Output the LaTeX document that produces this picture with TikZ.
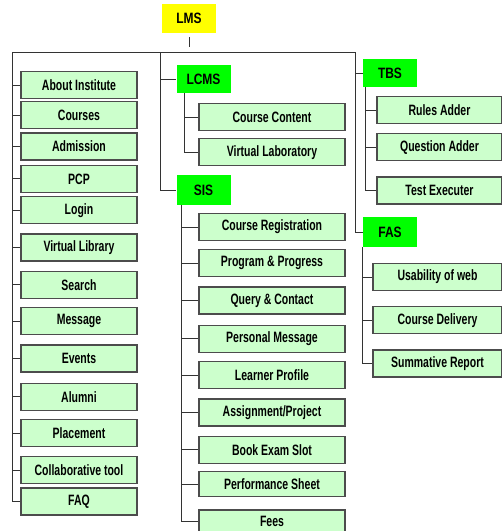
\documentclass[tikz,border=0pt]{standalone}
\usepackage{fontspec}
\setmainfont{Liberation Sans}[FakeStretch=0.8]
\newfontfamily\leaffont{Liberation Sans}[FakeStretch=0.7]
\usetikzlibrary{positioning}
\definecolor{lmsyellow}{HTML}{FFFF00}
\definecolor{headgreen}{HTML}{00FF00}
\definecolor{leafgreen}{HTML}{CCFFCC}
\tikzset{
  head/.style={fill=headgreen, minimum width=54pt, minimum height=29pt, inner sep=0pt,
    font=\fontsize{15}{15}\selectfont\bfseries},
  leaf/.style={draw=black!70, line width=1.3pt, fill=leafgreen, minimum height=27pt,
    inner sep=0pt, font=\leaffont\fontsize{15}{15}\selectfont\bfseries},
  leftleaf/.style={leaf, minimum width=116pt},
  midleaf/.style={leaf, minimum width=146pt},
  tbsleaf/.style={leaf, minimum width=125pt},
  fasleaf/.style={leaf, minimum width=129pt},
  wire/.style={draw=black!80, line width=1pt}
}
\begin{document}
\begin{tikzpicture}[x=1pt,y=-1pt]
  \useasboundingbox (0,0) rectangle (502,531);

  % heads
  \node (lms)
        [head, fill=lmsyellow] at (189,18.5)
        {LMS};
  \node (lcms)
        [head, minimum height=28pt] at (203.5,79)
        {LCMS};
  \node (sis)
        [head, minimum height=30pt] at (203.5,190)
        {SIS};
  \node (tbs)
        [head, minimum height=28pt] at (390,73)
        {TBS};
  \node (fas)
        [head, minimum height=30pt] at (390,232)
        {FAS};

  % left column
  \node (about)
        [leftleaf] at (79,85)
        {About Institute};
  \node (courses)
        [leftleaf, below=2pt of about]
        {Courses};
  \node (admission)
        [leftleaf, below=3pt of courses]
        {Admission};
  \node (pcp)
        [leftleaf, below=4pt of admission]
        {PCP};
  \node (login)
        [leftleaf, below=3pt of pcp]
        {Login};
  \node (vlibrary)
        [leftleaf, below=9pt of login]
        {Virtual Library};
  \node (search)
        [leftleaf, below=9pt of vlibrary]
        {Search};
  \node (message)
        [leftleaf, below=8pt of search]
        {Message};
  \node (events)
        [leftleaf, below=9pt of message]
        {Events};
  \node (alumni)
        [leftleaf, below=10pt of events]
        {Alumni};
  \node (placement)
        [leftleaf, below=8pt of alumni]
        {Placement};
  \node (collab)
        [leftleaf, below=9pt of placement]
        {Collaborative tool};
  \node (faq)
        [leftleaf, below=3pt of collab]
        {FAQ};

  % LCMS column
  \node (content)
        [midleaf] at (272,117)
        {Course Content};
  \node (vlab)
        [midleaf, below=7pt of content]
        {Virtual Laboratory};

  % SIS column
  \node (registration)
        [midleaf] at (272,227)
        {Course Registration};
  \node (progress)
        [midleaf, below=8pt of registration]
        {Program \& Progress};
  \node (query)
        [midleaf, below=9pt of progress]
        {Query \& Contact};
  \node (pmessage)
        [midleaf, below=10pt of query]
        {Personal Message};
  \node (profile)
        [midleaf, below=8pt of pmessage]
        {Learner Profile};
  \node (assignment)
        [midleaf, below=9pt of profile]
        {Assignment/Project};
  \node (examslot)
        [midleaf, below=9pt of assignment]
        {Book Exam Slot};
  \node (performance)
        [midleaf, minimum height=25pt, below=7pt of examslot]
        {Performance Sheet};
  \node (fees)
        [midleaf, minimum height=24pt, below=12pt of performance]
        {Fees};

  % TBS column
  \node (rules)
        [tbsleaf] at (439.5,110)
        {Rules Adder};
  \node (question)
        [tbsleaf, below=9pt of rules]
        {Question Adder};
  \node (executer)
        [tbsleaf, below=15pt of question]
        {Test Executer};

  % FAS column
  \node (usability)
        [fasleaf] at (437.5,277)
        {Usability of web};
  \node (delivery)
        [fasleaf, below=15pt of usability]
        {Course Delivery};
  \node (summative)
        [fasleaf, below=15pt of delivery]
        {Summative Report};

  % trunk
  \coordinate (lbar) at (12,52);
  \coordinate (mbar) at (160,52);
  \coordinate (rbar) at (355,52);
  \coordinate (lcmsbar) at ([xshift=8pt]lcms.south west);
  \coordinate (sisbar) at ([xshift=5pt]sis.south west);
  \coordinate (tbsbar) at ([xshift=3pt]tbs.south west);
  \coordinate (fasbar) at (fas.south west);

  \draw[wire] ([yshift=-4pt]lms.south) -- ([yshift=-14pt]lms.south);
  \draw[wire] (lbar) -- (rbar);

  \draw[wire] (lbar) |- (faq.west);
  \draw[wire] (lbar |- about.west) -- (about.west);
  \draw[wire] (lbar |- courses.west) -- (courses.west);
  \draw[wire] (lbar |- admission.west) -- (admission.west);
  \draw[wire] (lbar |- pcp.west) -- (pcp.west);
  \draw[wire] (lbar |- login.west) -- (login.west);
  \draw[wire] (lbar |- vlibrary.west) -- (vlibrary.west);
  \draw[wire] (lbar |- search.west) -- (search.west);
  \draw[wire] (lbar |- message.west) -- (message.west);
  \draw[wire] (lbar |- events.west) -- (events.west);
  \draw[wire] (lbar |- alumni.west) -- (alumni.west);
  \draw[wire] (lbar |- placement.west) -- (placement.west);
  \draw[wire] (lbar |- collab.west) -- (collab.west);

  \draw[wire] (mbar) |- (sis.west);
  \draw[wire] (mbar |- lcms.west) -- (lcms.west);
  \draw[wire] (rbar) |- (fas.west);
  \draw[wire] (rbar |- tbs.west) -- (tbs.west);

  \draw[wire] (lcmsbar) |- (vlab.west);
  \draw[wire] (lcmsbar |- content.west) -- (content.west);

  \draw[wire] (sisbar) |- (fees.west);
  \draw[wire] (sisbar |- registration.west) -- (registration.west);
  \draw[wire] (sisbar |- progress.west) -- (progress.west);
  \draw[wire] (sisbar |- query.west) -- (query.west);
  \draw[wire] (sisbar |- pmessage.west) -- (pmessage.west);
  \draw[wire] (sisbar |- profile.west) -- (profile.west);
  \draw[wire] (sisbar |- assignment.west) -- (assignment.west);
  \draw[wire] (sisbar |- examslot.west) -- (examslot.west);
  \draw[wire] (sisbar |- performance.west) -- (performance.west);

  \draw[wire] (tbsbar) |- (executer.west);
  \draw[wire] (tbsbar |- rules.west) -- (rules.west);
  \draw[wire] (tbsbar |- question.west) -- (question.west);

  \draw[wire] (fasbar) |- (summative.west);
  \draw[wire] (fasbar |- usability.west) -- (usability.west);
  \draw[wire] (fasbar |- delivery.west) -- (delivery.west);
\end{tikzpicture}
\end{document}
